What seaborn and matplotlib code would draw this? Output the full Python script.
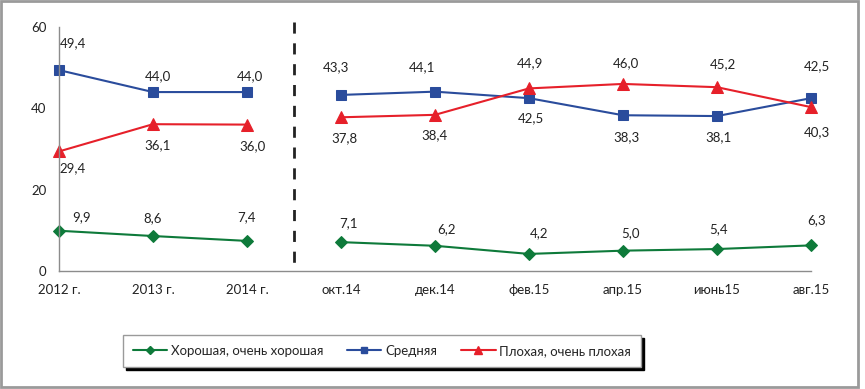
import pandas as pd
import matplotlib.pyplot as plt
import seaborn as sns
from matplotlib.patches import Rectangle
from matplotlib.lines import Line2D

sns.set_style("white")
plt.rcParams['font.family'] = ['Lato', 'DejaVu Sans']

# data
periods = ['2012 г.', '2013 г.', '2014 г.', 'окт.14', 'дек.14', 'фев.15', 'апр.15', 'июнь15', 'авг.15']
segment = [0, 0, 0, 1, 1, 1, 1, 1, 1]
good = [9.9, 8.6, 7.4, 7.1, 6.2, 4.2, 5.0, 5.4, 6.3]
middle = [49.4, 44.0, 44.0, 43.3, 44.1, 42.5, 38.3, 38.1, 42.5]
bad = [29.4, 36.1, 36.0, 37.8, 38.4, 44.9, 46.0, 45.2, 40.3]
names = ['Хорошая, очень хорошая', 'Средняя', 'Плохая, очень плохая']

colors = ['#0E7A3A', '#2A4C9C', '#E6202A']
markers = ['D', 's', '^']
msizes = [6, 7, 8]

# label offsets in pixels (dx, dy)
off_good = [(23, 14), (0, 18), (0, 24), (8, 19), (12, 17), (10, 21), (8, 18), (2, 20), (6, 25)]
off_mid = [(14, 27), (5, 16), (3, 16), (-5, 28), (-13, 25), (2, -20), (3, -22), (2, -21), (6, 32)]
off_bad = [(14, -17), (5, -21), (6, -22), (3, -21), (0, -20), (1, 25), (3, 21), (6, 23), (6, -25)]

df = pd.DataFrame({'pos': range(len(periods)), 'segment': segment,
                   names[0]: good, names[1]: middle, names[2]: bad})

fig = plt.figure(figsize=(8.65, 3.89), dpi=100)
ax = fig.add_axes([59 / 865, 1 - 271 / 389, 752 / 865, 244 / 389])

handles = []
for name, col, mk, ms, offs in zip(names, colors, markers, msizes, [off_good, off_mid, off_bad]):
    for seg, part in df.groupby('segment'):
        sns.lineplot(x=part['pos'], y=part[name], ax=ax, color=col, marker=mk,
                     markersize=ms, markeredgecolor=col, linewidth=1.5, clip_on=False)
    for x, y, (dx, dy) in zip(df['pos'], df[name], offs):
        ax.annotate(f'{y:.1f}'.replace('.', ','), (x, y), xytext=(dx, dy),
                    textcoords='offset pixels', ha='center', va='center',
                    fontsize=9.5, color='#222222')
    handles.append(Line2D([], [], color=col, marker=mk, markersize=ms - 2,
                          markeredgecolor=col, linewidth=1.5))

# dashed separator between yearly and monthly data
ax.plot([2.5, 2.5], [61.3, 0], color='#222222', linestyle=(0, (4, 3.5)),
        linewidth=2, clip_on=False)

ax.set_xlim(0, len(periods) - 1)
ax.set_ylim(0, 60)
ax.set_yticks([0, 20, 40, 60])
ax.set_xticks(range(len(periods)))
ax.set_xticklabels(periods)
ax.set_xlabel('')
ax.set_ylabel('')
for s in ['top', 'right']:
    ax.spines[s].set_visible(False)
for s in ['left', 'bottom']:
    ax.spines[s].set_color('#8c8c8c')
    ax.spines[s].set_linewidth(1)
ax.tick_params(axis='both', which='both', direction='out', length=5, width=1,
               color='#8c8c8c', labelsize=9.5, labelcolor='#222222')
ax.tick_params(axis='x', pad=4)
ax.tick_params(axis='y', pad=4)
ax.patch.set_alpha(0)

leg = fig.legend(handles, names, loc='center', bbox_to_anchor=(382 / 865, 1 - 351 / 389),
                 ncol=3, frameon=True, fancybox=False, shadow={'color': 'black', 'alpha': 1},
                 fontsize=9.5, handlelength=2.6, handletextpad=0.3, columnspacing=1.8,
                 borderpad=0.75)
leg.get_frame().set_edgecolor('#9a9a9a')
leg.get_frame().set_linewidth(1)

fig.patches.append(Rectangle((1 / 865, 2 / 389), 857 / 865, 386 / 389, transform=fig.transFigure,
                             fill=False, edgecolor='#9a9a9a', linewidth=2))

fig.savefig('out.png', dpi=100)
